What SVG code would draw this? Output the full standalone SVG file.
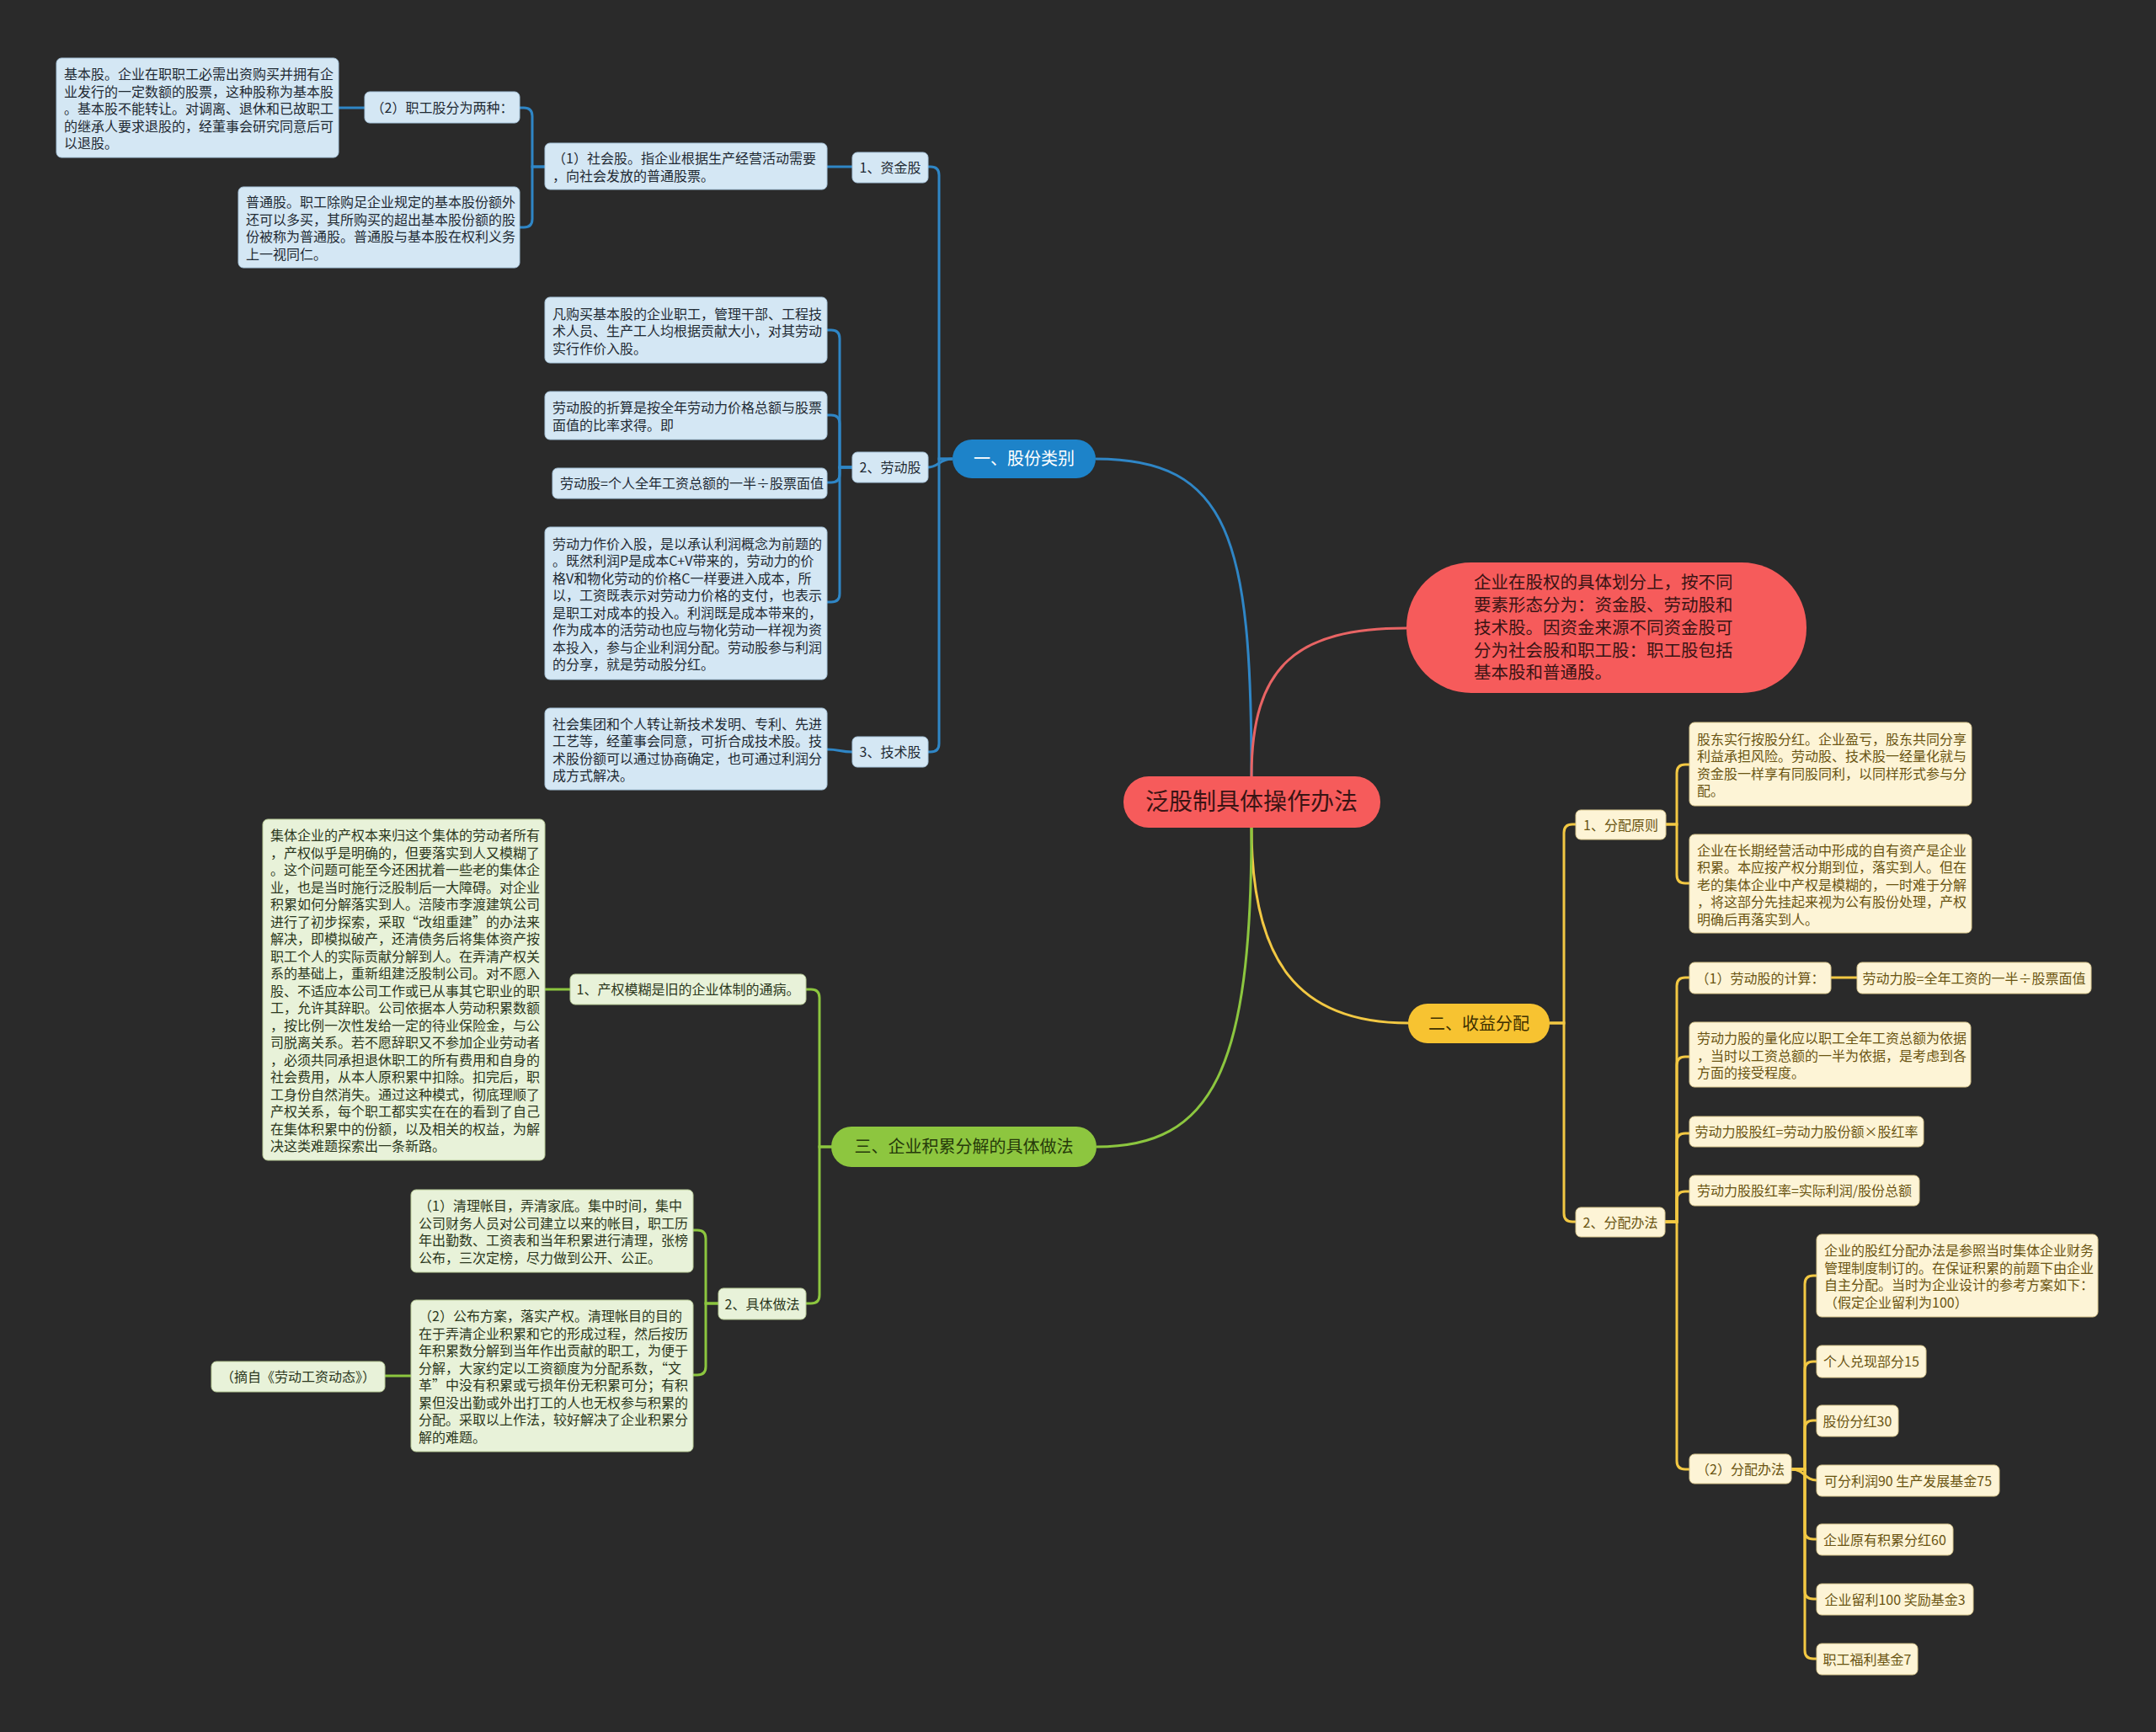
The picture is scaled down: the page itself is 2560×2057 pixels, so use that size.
<svg xmlns="http://www.w3.org/2000/svg" width="2560" height="2057" viewBox="0 0 2560 2057">
<style>
text{font-family:"Noto Sans CJK SC","Noto Sans",sans-serif;}
.t16{font-size:16px;}
.c{text-anchor:middle;}
.bl{fill:#d4e7f4;stroke:#a9c6dc;stroke-width:1;}
.bt{fill:#1f2a33;}
.yl{fill:#fdf4d6;stroke:#d9c78e;stroke-width:1;}
.yt{fill:#6a5412;}
.gl{fill:#e8f2d9;stroke:#b9cc98;stroke-width:1;}
.gt{fill:#2c3820;}
.cb{fill:none;stroke:#2f86c6;stroke-width:3;}
.cr{fill:none;stroke:#e86464;stroke-width:3;}
.cy{fill:none;stroke:#f2c843;stroke-width:3;}
.cg{fill:none;stroke:#8cc63f;stroke-width:3;}
</style>
<rect x="0" y="0" width="2560" height="2057" fill="#2a2a2a"/>

<g id="connectors">
<path class="cb" d="M1486,922 C1486,640 1460,545 1301,545"/>
<path class="cr" d="M1486,922 C1486,790 1540,746 1670,746"/>
<path class="cy" d="M1486,983 C1486,1140 1540,1215 1672,1215"/>
<path class="cg" d="M1486,983 C1486,1270 1440,1362 1302,1362"/>

<path class="cb" d="M1131,545 H1115 V208 Q1115,198 1105,198 H1101"/>
<path class="cb" d="M1131,545 C1115,545 1115,555 1101,555"/>
<path class="cb" d="M1131,545 H1115 V883 Q1115,893 1105,893 H1101"/>
<path class="cb" d="M1012,198 H982"/>
<path class="cb" d="M647,198 H632 V138 Q632,128 622,128 H617"/>
<path class="cb" d="M647,198 H632 V260 Q632,270 622,270 H617"/>
<path class="cb" d="M433,128 H402"/>
<path class="cb" d="M1012,555 H997 V402 Q997,392 987,392 H982"/>
<path class="cb" d="M1012,555 H997 V503 Q997,493 987,493 H982"/>
<path class="cb" d="M1012,555 H997 V563 Q997,573 987,573 H982"/>
<path class="cb" d="M1012,555 H997 V705 Q997,715 987,715 H982"/>
<path class="cb" d="M1012,893 C997,893 997,890 982,890"/>

<path class="cy" d="M1840,1215 H1857 V989 Q1857,979 1867,979 H1871"/>
<path class="cy" d="M1840,1215 H1857 V1441 Q1857,1451 1867,1451 H1871"/>
<path class="cy" d="M1977,979 H1991 V918 Q1991,908 2001,908 H2006"/>
<path class="cy" d="M1977,979 H1991 V1039 Q1991,1049 2001,1049 H2006"/>
<path class="cy" d="M1976,1451 H1991 V1171 Q1991,1161 2001,1161 H2006"/>
<path class="cy" d="M1976,1451 H1991 V1265 Q1991,1255 2001,1255 H2006"/>
<path class="cy" d="M1976,1451 H1991 V1356 Q1991,1346 2001,1346 H2006"/>
<path class="cy" d="M1976,1451 H1991 V1425 Q1991,1415 2001,1415 H2006"/>
<path class="cy" d="M1976,1451 H1991 V1735 Q1991,1745 2001,1745 H2006"/>
<path class="cy" d="M2174,1161 H2205"/>
<path class="cy" d="M2127,1745 H2143 V1525 Q2143,1515 2153,1515 H2157"/>
<path class="cy" d="M2127,1745 H2143 V1627 Q2143,1617 2153,1617 H2157"/>
<path class="cy" d="M2127,1745 H2143 V1697 Q2143,1687 2153,1687 H2157"/>
<path class="cy" d="M2127,1745 C2143,1745 2143,1758 2157,1758"/>
<path class="cy" d="M2127,1745 H2143 V1818 Q2143,1828 2153,1828 H2157"/>
<path class="cy" d="M2127,1745 H2143 V1889 Q2143,1899 2153,1899 H2157"/>
<path class="cy" d="M2127,1745 H2143 V1960 Q2143,1970 2153,1970 H2157"/>

<path class="cg" d="M988,1362 H973 V1185 Q973,1175 963,1175 H957"/>
<path class="cg" d="M988,1362 H973 V1538 Q973,1548 963,1548 H957"/>
<path class="cg" d="M677,1175 H647"/>
<path class="cg" d="M853,1548 H838 V1471 Q838,1461 828,1461 H823"/>
<path class="cg" d="M853,1548 H838 V1623 Q838,1633 828,1633 H823"/>
<path class="cg" d="M488,1634 H457"/>
</g>

<g id="root">
<rect x="1334" y="922" width="305" height="61" rx="30" fill="#f65b5b"/>
<text x="1486" y="962" class="c" font-size="28" fill="#3a1414">泛股制具体操作办法</text>
</g>

<g id="summary">
<rect x="1670" y="668" width="475" height="155" rx="77" fill="#f65b5b"/>
<text font-size="20.5" fill="#3a1414">
<tspan x="1750" y="699">企业在股权的具体划分上，按不同</tspan>
<tspan x="1750" y="726">要素形态分为：资金股、劳动股和</tspan>
<tspan x="1750" y="753">技术股。因资金来源不同资金股可</tspan>
<tspan x="1750" y="780">分为社会股和职工股：职工股包括</tspan>
<tspan x="1750" y="806">基本股和普通股。</tspan>
</text>
</g>

<g id="branch-blue">
<rect x="1131" y="522" width="170" height="46" rx="23" fill="#1d83c9"/>
<text x="1216" y="552" class="c" font-size="20" fill="#ffffff">一、股份类别</text>
</g>
<g id="b-zjg"><rect class="bl" x="1012" y="181" width="90" height="36" rx="6"/><text class="t16 bt c" x="1057" y="204.5">1、资金股</text></g>
<g id="b-ldg"><rect class="bl" x="1012" y="537" width="90" height="36" rx="6"/><text class="t16 bt c" x="1057" y="561">2、劳动股</text></g>
<g id="b-jsg"><rect class="bl" x="1012" y="875" width="90" height="36" rx="6"/><text class="t16 bt c" x="1057" y="899">3、技术股</text></g>
<g id="b-shg"><rect class="bl" x="647" y="170" width="335" height="55" rx="6"/><text class="t16 bt"><tspan x="656" y="194.25">（1）社会股。指企业根据生产经营活动需要</tspan><tspan x="656" y="214.75">，向社会发放的普通股票。</tspan></text></g>
<g id="b-zgg"><rect class="bl" x="433" y="109" width="184" height="37" rx="6"/><text class="t16 bt c" x="525" y="133.5">（2）职工股分为两种：</text></g>
<g id="b-jbg"><rect class="bl" x="67" y="69" width="335" height="118" rx="6"/><text class="t16 bt"><tspan x="76" y="94">基本股。企业在职职工必需出资购买并拥有企</tspan><tspan x="76" y="114.5">业发行的一定数额的股票，这种股称为基本股</tspan><tspan x="76" y="135">。基本股不能转让。对调离、退休和已故职工</tspan><tspan x="76" y="155.5">的继承人要求退股的，经董事会研究同意后可</tspan><tspan x="76" y="176">以退股。</tspan></text></g>
<g id="b-ptg"><rect class="bl" x="283" y="222" width="334" height="96" rx="6"/><text class="t16 bt"><tspan x="292" y="246.25">普通股。职工除购足企业规定的基本股份额外</tspan><tspan x="292" y="266.75">还可以多买，其所购买的超出基本股份额的股</tspan><tspan x="292" y="287.25">份被称为普通股。普通股与基本股在权利义务</tspan><tspan x="292" y="307.75">上一视同仁。</tspan></text></g>
<g id="b-l1"><rect class="bl" x="647" y="353" width="335" height="78" rx="6"/><text class="t16 bt"><tspan x="656" y="378.5">凡购买基本股的企业职工，管理干部、工程技</tspan><tspan x="656" y="399">术人员、生产工人均根据贡献大小，对其劳动</tspan><tspan x="656" y="419.5">实行作价入股。</tspan></text></g>
<g id="b-l2"><rect class="bl" x="647" y="465" width="335" height="57" rx="6"/><text class="t16 bt"><tspan x="656" y="490.25">劳动股的折算是按全年劳动力价格总额与股票</tspan><tspan x="656" y="510.75">面值的比率求得。即</tspan></text></g>
<g id="b-l3"><rect class="bl" x="656" y="556" width="326" height="36" rx="6"/><text class="t16 bt" x="665" y="580">劳动股=个人全年工资总额的一半÷股票面值</text></g>
<g id="b-l4"><rect class="bl" x="647" y="626" width="335" height="181" rx="6"/><text class="t16 bt"><tspan x="656" y="651.75">劳动力作价入股，是以承认利润概念为前题的</tspan><tspan x="656" y="672.25">。既然利润P是成本C+V带来的，劳动力的价</tspan><tspan x="656" y="692.75">格V和物化劳动的价格C一样要进入成本，所</tspan><tspan x="656" y="713.25">以，工资既表示对劳动力价格的支付，也表示</tspan><tspan x="656" y="733.75">是职工对成本的投入。利润既是成本带来的，</tspan><tspan x="656" y="754.25">作为成本的活劳动也应与物化劳动一样视为资</tspan><tspan x="656" y="774.75">本投入，参与企业利润分配。劳动股参与利润</tspan><tspan x="656" y="795.25">的分享，就是劳动股分红。</tspan></text></g>
<g id="b-js"><rect class="bl" x="647" y="841" width="335" height="97" rx="6"/><text class="t16 bt"><tspan x="656" y="865.75">社会集团和个人转让新技术发明、专利、先进</tspan><tspan x="656" y="886.25">工艺等，经董事会同意，可折合成技术股。技</tspan><tspan x="656" y="906.75">术股份额可以通过协商确定，也可通过利润分</tspan><tspan x="656" y="927.25">成方式解决。</tspan></text></g>

<g id="branch-yellow">
<rect x="1672" y="1192" width="168" height="47" rx="23" fill="#f7c331"/>
<text x="1756" y="1222.5" class="c" font-size="20" fill="#3d3000">二、收益分配</text>
</g>
<g id="y-fpyz"><rect class="yl" x="1871" y="962" width="107" height="35" rx="6"/><text class="t16 yt c" x="1924.5" y="985.5">1、分配原则</text></g>
<g id="y-fpbf"><rect class="yl" x="1871" y="1434" width="106" height="35" rx="6"/><text class="t16 yt c" x="1924" y="1457.5">2、分配办法</text></g>
<g id="y-a"><rect class="yl" x="2006" y="858" width="335" height="99" rx="6"/><text class="t16 yt"><tspan x="2015" y="883.75">股东实行按股分红。企业盈亏，股东共同分享</tspan><tspan x="2015" y="904.25">利益承担风险。劳动股、技术股一经量化就与</tspan><tspan x="2015" y="924.75">资金股一样享有同股同利，以同样形式参与分</tspan><tspan x="2015" y="945.25">配。</tspan></text></g>
<g id="y-b"><rect class="yl" x="2006" y="991" width="335" height="117" rx="6"/><text class="t16 yt"><tspan x="2015" y="1015.5">企业在长期经营活动中形成的自有资产是企业</tspan><tspan x="2015" y="1036">积累。本应按产权分期到位，落实到人。但在</tspan><tspan x="2015" y="1056.5">老的集体企业中产权是模糊的，一时难于分解</tspan><tspan x="2015" y="1077">，将这部分先挂起来视为公有股份处理，产权</tspan><tspan x="2015" y="1097.5">明确后再落实到人。</tspan></text></g>
<g id="y-c"><rect class="yl" x="2006" y="1143" width="168" height="37" rx="6"/><text class="t16 yt c" x="2090" y="1167.5">（1）劳动股的计算：</text></g>
<g id="y-c1"><rect class="yl" x="2205" y="1143" width="278" height="37" rx="6"/><text class="t16 yt c" x="2344" y="1167.5">劳动力股=全年工资的一半÷股票面值</text></g>
<g id="y-d"><rect class="yl" x="2006" y="1214" width="334" height="77" rx="6"/><text class="t16 yt"><tspan x="2015" y="1239">劳动力股的量化应以职工全年工资总额为依据</tspan><tspan x="2015" y="1259.5">，当时以工资总额的一半为依据，是考虑到各</tspan><tspan x="2015" y="1280">方面的接受程度。</tspan></text></g>
<g id="y-e"><rect class="yl" x="2006" y="1326" width="278" height="36" rx="6"/><text class="t16 yt c" x="2145" y="1350">劳动力股股红=劳动力股份额×股红率</text></g>
<g id="y-f"><rect class="yl" x="2006" y="1396" width="273" height="36" rx="6"/><text class="t16 yt c" x="2142.5" y="1420">劳动力股股红率=实际利润/股份总额</text></g>
<g id="y-g"><rect class="yl" x="2006" y="1727" width="121" height="35" rx="6"/><text class="t16 yt c" x="2066.5" y="1750.5">（2）分配办法</text></g>
<g id="y-h"><rect class="yl" x="2157" y="1466" width="334" height="98" rx="6"/><text class="t16 yt"><tspan x="2166" y="1491.25">企业的股红分配办法是参照当时集体企业财务</tspan><tspan x="2166" y="1511.75">管理制度制订的。在保证积累的前题下由企业</tspan><tspan x="2166" y="1532.25">自主分配。当时为企业设计的参考方案如下：</tspan><tspan x="2166" y="1552.75">（假定企业留利为100）</tspan></text></g>
<g id="y-i"><rect class="yl" x="2157" y="1598" width="130" height="38" rx="6"/><text class="t16 yt c" x="2222" y="1623">个人兑现部分15</text></g>
<g id="y-j"><rect class="yl" x="2157" y="1669" width="97" height="37" rx="6"/><text class="t16 yt c" x="2205.5" y="1693.5">股份分红30</text></g>
<g id="y-k"><rect class="yl" x="2157" y="1740" width="217" height="37" rx="6"/><text class="t16 yt c" x="2265.5" y="1764.5">可分利润90 生产发展基金75</text></g>
<g id="y-l"><rect class="yl" x="2157" y="1810" width="162" height="37" rx="6"/><text class="t16 yt c" x="2238" y="1834.5">企业原有积累分红60</text></g>
<g id="y-m"><rect class="yl" x="2157" y="1881" width="186" height="37" rx="6"/><text class="t16 yt c" x="2250" y="1905.5">企业留利100 奖励基金3</text></g>
<g id="y-n"><rect class="yl" x="2157" y="1952" width="120" height="37" rx="6"/><text class="t16 yt c" x="2217" y="1976.5">职工福利基金7</text></g>

<g id="branch-green">
<rect x="987" y="1338" width="315" height="48" rx="24" fill="#8dc63f"/>
<text x="1144.5" y="1369" class="c" font-size="20" fill="#263a0a">三、企业积累分解的具体做法</text>
</g>
<g id="g-1"><rect class="gl" x="677" y="1157" width="280" height="36" rx="6"/><text class="t16 gt c" x="817" y="1181">1、产权模糊是旧的企业体制的通病。</text></g>
<g id="g-1a"><rect class="gl" x="312" y="973" width="335" height="405" rx="6"/><text class="t16 gt"><tspan x="321" y="998">集体企业的产权本来归这个集体的劳动者所有</tspan><tspan x="321" y="1018.5">，产权似乎是明确的，但要落实到人又模糊了</tspan><tspan x="321" y="1039">。这个问题可能至今还困扰着一些老的集体企</tspan><tspan x="321" y="1059.5">业，也是当时施行泛股制后一大障碍。对企业</tspan><tspan x="321" y="1080">积累如何分解落实到人。涪陵市李渡建筑公司</tspan><tspan x="321" y="1100.5">进行了初步探索，采取“改组重建”的办法来</tspan><tspan x="321" y="1121">解决，即模拟破产，还清债务后将集体资产按</tspan><tspan x="321" y="1141.5">职工个人的实际贡献分解到人。在弄清产权关</tspan><tspan x="321" y="1162">系的基础上，重新组建泛股制公司。对不愿入</tspan><tspan x="321" y="1182.5">股、不适应本公司工作或已从事其它职业的职</tspan><tspan x="321" y="1203">工，允许其辞职。公司依据本人劳动积累数额</tspan><tspan x="321" y="1223.5">，按比例一次性发给一定的待业保险金，与公</tspan><tspan x="321" y="1244">司脱离关系。若不愿辞职又不参加企业劳动者</tspan><tspan x="321" y="1264.5">，必须共同承担退休职工的所有费用和自身的</tspan><tspan x="321" y="1285">社会费用，从本人原积累中扣除。扣完后，职</tspan><tspan x="321" y="1305.5">工身份自然消失。通过这种模式，彻底理顺了</tspan><tspan x="321" y="1326">产权关系，每个职工都实实在在的看到了自己</tspan><tspan x="321" y="1346.5">在集体积累中的份额，以及相关的权益，为解</tspan><tspan x="321" y="1367">决这类难题探索出一条新路。</tspan></text></g>
<g id="g-2"><rect class="gl" x="853" y="1530" width="104" height="37" rx="6"/><text class="t16 gt c" x="905" y="1554.5">2、具体做法</text></g>
<g id="g-2a"><rect class="gl" x="488" y="1413" width="335" height="98" rx="6"/><text class="t16 gt"><tspan x="497" y="1438.25">（1）清理帐目，弄清家底。集中时间，集中</tspan><tspan x="497" y="1458.75">公司财务人员对公司建立以来的帐目，职工历</tspan><tspan x="497" y="1479.25">年出勤数、工资表和当年积累进行清理，张榜</tspan><tspan x="497" y="1499.75">公布，三次定榜，尽力做到公开、公正。</tspan></text></g>
<g id="g-2b"><rect class="gl" x="488" y="1544" width="335" height="180" rx="6"/><text class="t16 gt"><tspan x="497" y="1569.25">（2）公布方案，落实产权。清理帐目的目的</tspan><tspan x="497" y="1589.75">在于弄清企业积累和它的形成过程，然后按历</tspan><tspan x="497" y="1610.25">年积累数分解到当年作出贡献的职工，为便于</tspan><tspan x="497" y="1630.75">分解，大家约定以工资额度为分配系数，“文</tspan><tspan x="497" y="1651.25">革”中没有积累或亏损年份无积累可分；有积</tspan><tspan x="497" y="1671.75">累但没出勤或外出打工的人也无权参与积累的</tspan><tspan x="497" y="1692.25">分配。采取以上作法，较好解决了企业积累分</tspan><tspan x="497" y="1712.75">解的难题。</tspan></text></g>
<g id="g-2c"><rect class="gl" x="251" y="1617" width="206" height="36" rx="6"/><text class="t16 gt c" x="354" y="1641">（摘自《劳动工资动态》）</text></g>
</svg>
